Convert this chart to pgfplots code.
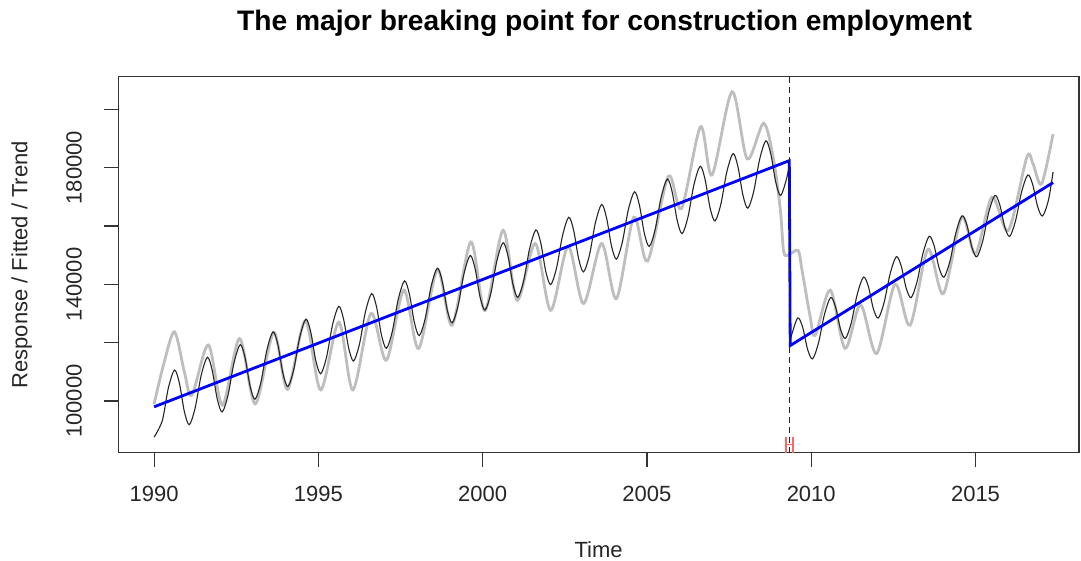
\documentclass[border=0pt]{standalone}
\usepackage{fontspec}
\setmainfont{Liberation Sans}
\setsansfont{Liberation Sans}
\usepackage{pgfplots}
\pgfplotsset{compat=1.18}
\definecolor{rgrey}{HTML}{BEBEBE}
\definecolor{rblue}{HTML}{0000FF}
\definecolor{rred}{HTML}{FF6666}
\begin{document}
\begin{tikzpicture}
\begin{axis}[
  at={(0,0)}, anchor=south west,
  scale only axis, width=480.35pt, height=188pt,
  xmin=1988.91, xmax=2018.15, ymin=82275, ymax=211180,
  axis line style={black!80, line width=0.6pt},
  tick align=outside, major tick length=7pt,
  tick style={black!80, line width=0.6pt},
  tick pos=left,
  scaled y ticks=false, scaled x ticks=false,
  xtick={1990,1995,2000,2005,2010,2015},
  xticklabels={1990,1995,2000,2005,2010,2015},
  ytick={100000,120000,140000,160000,180000,200000},
  yticklabels={100000,{},140000,{},180000,{}},
  minor tick num=0,
  ticklabel style={font=\fontsize{11}{13}\selectfont, text=black!85},
  xticklabel style={anchor=base},
  xticklabel shift=17.5pt,
  yticklabel style={rotate=90, anchor=base},
  yticklabel shift=11.3pt,
  xlabel={Time},
  ylabel={Response / Fitted / Trend},
  label style={font=\fontsize{11}{13}\selectfont, text=black!85},
  xlabel style={at={(axis description cs:0.5,-0.2793)}, anchor=base},
  ylabel style={at={(axis description cs:-0.0947,0.5)}, anchor=base, rotate=0},
  title={The major breaking point for construction employment},
  every axis title shift=0pt,
  title style={font=\fontsize{14.1}{17}\selectfont\bfseries, at={(axis description cs:0.5062,1.1229)}, anchor=base},
  clip=true,
]
% response (grey)
\addplot[rgrey, line width=1.4pt, smooth, tension=0.5] coordinates {
(1990.00,99000) (1990.30,113000) (1990.62,123700) (1990.92,110000) (1991.15,102000) (1991.65,119200) (1992.08,98600) (1992.60,121400) (1993.08,99000) (1993.64,123500) (1994.06,104000) (1994.60,127500) (1995.07,103800) (1995.62,127000) (1996.05,103800) (1996.60,130000) (1997.07,114000) (1997.60,138000) (1998.05,118000) (1998.62,145000) (1999.07,126000) (1999.64,154500) (2000.07,131000) (2000.62,158500) (2001.05,134500) (2001.60,154000) (2002.07,131100) (2002.60,153000) (2003.07,133400) (2003.62,154000) (2004.07,135100) (2004.60,163000) (2005.02,148000) (2005.65,177000) (2006.05,166000) (2006.63,194000) (2006.98,177500) (2007.59,206000) (2008.05,183000) (2008.55,195200) (2008.85,183000) (2009.06,165600) (2009.16,151300) (2009.30,150000) (2009.60,151600) (2009.72,144800) (2009.97,128800) (2010.12,122500) (2010.58,138000) (2011.03,118000) (2011.50,133000) (2011.99,116300) (2012.55,140000) (2013.01,126000) (2013.55,152000) (2014.02,136800) (2014.58,163000) (2015.00,150500) (2015.50,169900) (2016.00,158500) (2016.56,183500) (2016.75,181300) (2017.01,174400) (2017.36,191500)
};
% fitted (black), segment 1
\addplot[black!85, line width=0.55pt, smooth] coordinates {
(1990.00,87600) (1990.25,93290) (1990.43,104280) (1990.62,110610) (1990.77,106060) (1990.92,96420)
(1991.07,91880) (1991.25,97660) (1991.43,108650) (1991.62,114980) (1991.77,110430) (1991.92,100790)
(1992.07,96240) (1992.25,102020) (1992.43,113010) (1992.62,119340) (1992.77,114790) (1992.92,105150)
(1993.07,100610) (1993.25,106390) (1993.43,117380) (1993.62,123710) (1993.77,119160) (1993.92,109520)
(1994.07,104970) (1994.25,110750) (1994.43,121740) (1994.62,128070) (1994.77,123520) (1994.92,113880)
(1995.07,109340) (1995.25,115120) (1995.43,126110) (1995.62,132440) (1995.77,127890) (1995.92,118250)
(1996.07,113710) (1996.25,119490) (1996.43,130480) (1996.62,136810) (1996.77,132260) (1996.92,122620)
(1997.07,118070) (1997.25,123850) (1997.43,134840) (1997.62,141170) (1997.77,136620) (1997.92,126980)
(1998.07,122440) (1998.25,128220) (1998.43,139210) (1998.62,145540) (1998.77,140990) (1998.92,131350)
(1999.07,126800) (1999.25,132580) (1999.43,143570) (1999.62,149900) (1999.77,145350) (1999.92,135710)
(2000.07,131170) (2000.25,136950) (2000.43,147940) (2000.62,154270) (2000.77,149720) (2000.92,140080)
(2001.07,135540) (2001.25,141320) (2001.43,152310) (2001.62,158640) (2001.77,154090) (2001.92,144450)
(2002.07,139900) (2002.25,145680) (2002.43,156670) (2002.62,163000) (2002.77,158450) (2002.92,148810)
(2003.07,144270) (2003.25,150050) (2003.43,161040) (2003.62,167370) (2003.77,162820) (2003.92,153180)
(2004.07,148630) (2004.25,154410) (2004.43,165400) (2004.62,171730) (2004.77,167180) (2004.92,157540)
(2005.07,153000) (2005.25,158780) (2005.43,169770) (2005.62,176100) (2005.77,171550) (2005.92,161910)
(2006.07,157370) (2006.25,163150) (2006.43,174140) (2006.62,180470) (2006.77,175920) (2006.92,166280)
(2007.07,161730) (2007.25,167510) (2007.43,178500) (2007.62,184830) (2007.77,180280) (2007.92,170640)
(2008.07,166100) (2008.25,171880) (2008.43,182870) (2008.62,189200) (2008.77,184650) (2008.92,175010)
(2009.07,170460) (2009.25,176240) (2009.333,181080)
};
% fitted jump at the break
\addplot[black!85, line width=0.55pt] coordinates {(2009.333,181080) (2009.36,121000)};
% fitted (black), segment 2
\addplot[black!85, line width=0.55pt, smooth] coordinates {
(2009.36,121000) (2009.40,122570) (2009.59,128480) (2009.74,125230) (2009.89,117680)
(2010.04,114430) (2010.22,119850) (2010.40,129570) (2010.59,135480) (2010.74,132230) (2010.89,124680)
(2011.04,121430) (2011.22,126850) (2011.40,136570) (2011.59,142480) (2011.74,139230) (2011.89,131680)
(2012.04,128430) (2012.22,133850) (2012.40,143570) (2012.59,149480) (2012.74,146230) (2012.89,138680)
(2013.04,135430) (2013.22,140850) (2013.40,150570) (2013.59,156480) (2013.74,153230) (2013.89,145680)
(2014.04,142430) (2014.22,147850) (2014.40,157570) (2014.59,163480) (2014.74,160230) (2014.89,152680)
(2015.04,149430) (2015.22,154850) (2015.40,164570) (2015.59,170480) (2015.74,167230) (2015.89,159680)
(2016.04,156430) (2016.22,161850) (2016.40,171570) (2016.59,177480) (2016.74,174230) (2016.89,166680)
(2017.04,163430) (2017.22,168850) (2017.36,178500)
};
% trend (blue)
\addplot[rblue, line width=1.4pt] coordinates {
(1990.00,98000) (2009.333,182400) (2009.36,119000) (2017.36,174870)
};
% breakpoint
\addplot[black!85, line width=0.6pt, dash pattern=on 3pt off 2pt] coordinates {(2009.35,82275) (2009.35,211180)};
% confidence interval of the break
\addplot[rred, line width=0.9pt] coordinates {(2009.24,82275) (2009.24,87550)};
\addplot[rred, line width=0.9pt] coordinates {(2009.44,82275) (2009.44,87550)};
\addplot[rred, line width=0.9pt] coordinates {(2009.24,85100) (2009.44,85100)};
\end{axis}
\pgfresetboundingbox
\path[use as bounding box] (-59.15pt,-54.15pt) rectangle (481.35pt,226.35pt);
\end{tikzpicture}
\end{document}
